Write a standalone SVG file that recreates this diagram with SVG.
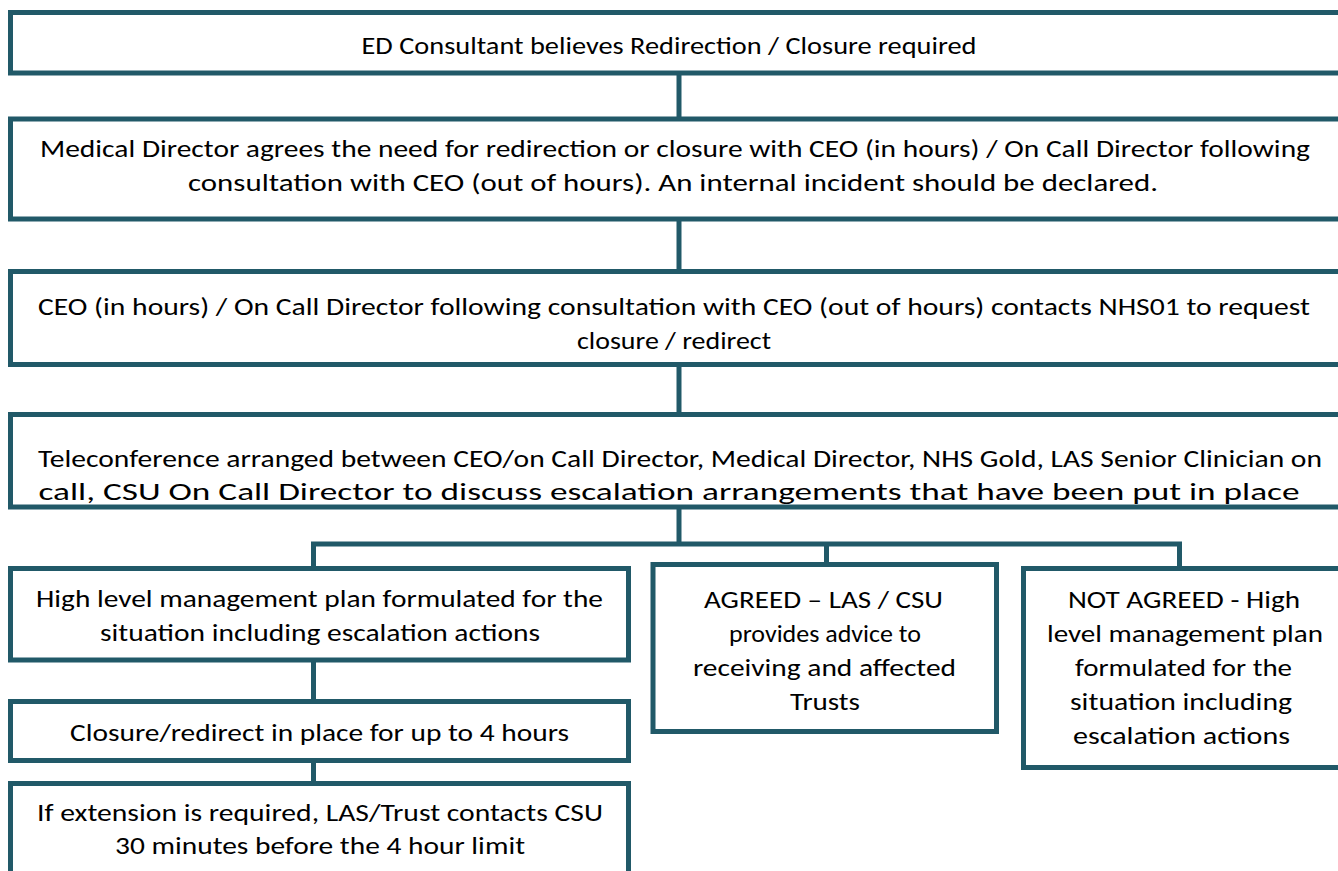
<svg xmlns="http://www.w3.org/2000/svg" width="1338" height="871" viewBox="0 0 1338 871">
<style>
.box{fill:#ffffff;stroke:#215968;stroke-width:5}
.con{fill:none;stroke:#215968;stroke-width:5}
text{font-family:Carlito,Lato,"Liberation Sans",sans-serif;font-size:25px;fill:#000000;text-anchor:middle}
</style>
<rect width="1338" height="871" fill="#ffffff"/>
<g id="connectors">
<line class="con" x1="679" y1="73" x2="679" y2="119"/>
<line class="con" x1="679" y1="219" x2="679" y2="271.5"/>
<line class="con" x1="679" y1="364.5" x2="679" y2="414.5"/>
<line class="con" x1="679" y1="507" x2="679" y2="544"/>
<polyline class="con" points="313.5,568.5 313.5,544 1179.5,544 1179.5,568.5"/>
<line class="con" x1="826.5" y1="544" x2="826.5" y2="564.5"/>
<line class="con" x1="313.5" y1="660" x2="313.5" y2="701.5"/>
<line class="con" x1="313.5" y1="760.5" x2="313.5" y2="783.5"/>
</g>
<g id="n1">
<rect class="box" x="10.5" y="12.5" width="1345" height="60.5"/>
<text x="669" y="54" textLength="615" lengthAdjust="spacingAndGlyphs">ED Consultant believes Redirection / Closure required</text>
</g>
<g id="n2">
<rect class="box" x="10.5" y="119" width="1345" height="100"/>
<text x="675" y="157" textLength="1270" lengthAdjust="spacingAndGlyphs">Medical Director agrees the need for redirection or closure with CEO (in hours) / On Call Director following</text>
<text x="673" y="191" textLength="970" lengthAdjust="spacingAndGlyphs">consultation with CEO (out of hours). An internal incident should be declared.</text>
</g>
<g id="n3">
<rect class="box" x="10.5" y="271.5" width="1345" height="93"/>
<text x="674" y="315" textLength="1272" lengthAdjust="spacingAndGlyphs">CEO (in hours) / On Call Director following consultation with CEO (out of hours) contacts NHS01 to request</text>
<text x="674" y="349" textLength="194" lengthAdjust="spacingAndGlyphs">closure / redirect</text>
</g>
<g id="n4">
<rect class="box" x="10.5" y="414.5" width="1345" height="92.5"/>
<text x="680" y="467" textLength="1284" lengthAdjust="spacingAndGlyphs">Teleconference arranged between CEO/on Call Director, Medical Director, NHS Gold, LAS Senior Clinician on</text>
<text x="669" y="500" textLength="1261" lengthAdjust="spacingAndGlyphs">call, CSU On Call Director to discuss escalation arrangements that have been put in place</text>
</g>
<g id="n5">
<rect class="box" x="10.5" y="568.5" width="618" height="91.5"/>
<text x="319.5" y="607" textLength="567" lengthAdjust="spacingAndGlyphs">High level management plan formulated for the</text>
<text x="320" y="641" textLength="440" lengthAdjust="spacingAndGlyphs">situation including escalation actions</text>
</g>
<g id="n6">
<rect class="box" x="653" y="564.5" width="343.5" height="167"/>
<text x="823.5" y="608" textLength="239" lengthAdjust="spacingAndGlyphs">AGREED – LAS / CSU</text>
<text x="825" y="642" textLength="192" lengthAdjust="spacingAndGlyphs">provides advice to</text>
<text x="824.5" y="676" textLength="263" lengthAdjust="spacingAndGlyphs">receiving and affected</text>
<text x="825" y="710" textLength="70" lengthAdjust="spacingAndGlyphs">Trusts</text>
</g>
<g id="n7">
<rect class="box" x="1023.5" y="568.5" width="340" height="199"/>
<text x="1184" y="608" textLength="232" lengthAdjust="spacingAndGlyphs">NOT AGREED - High</text>
<text x="1185" y="642" textLength="276" lengthAdjust="spacingAndGlyphs">level management plan</text>
<text x="1183.5" y="676" textLength="217" lengthAdjust="spacingAndGlyphs">formulated for the</text>
<text x="1181" y="710" textLength="222" lengthAdjust="spacingAndGlyphs">situation including</text>
<text x="1181.5" y="744" textLength="217" lengthAdjust="spacingAndGlyphs">escalation actions</text>
</g>
<g id="n8">
<rect class="box" x="10.5" y="701.5" width="618" height="59"/>
<text x="319.5" y="741" textLength="499" lengthAdjust="spacingAndGlyphs">Closure/redirect in place for up to 4 hours</text>
</g>
<g id="n9">
<rect class="box" x="10.5" y="783.5" width="618" height="120"/>
<text x="320" y="821" textLength="566" lengthAdjust="spacingAndGlyphs">If extension is required, LAS/Trust contacts CSU</text>
<text x="320" y="854" textLength="410" lengthAdjust="spacingAndGlyphs">30 minutes before the 4 hour limit</text>
</g>
</svg>
